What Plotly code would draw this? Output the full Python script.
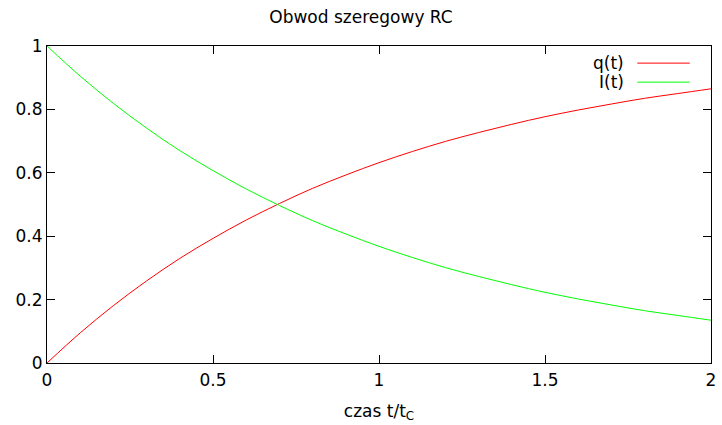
import plotly.graph_objects as go

t = [0.0, 0.1, 0.2, 0.3, 0.4, 0.5, 0.6, 0.7, 0.8, 0.9, 1.0,
     1.1, 1.2, 1.3, 1.4, 1.5, 1.6, 1.7, 1.8, 1.9, 2.0]
q = [0.0, 0.095, 0.181, 0.259, 0.330, 0.393, 0.451, 0.503, 0.551, 0.593, 0.632,
     0.667, 0.699, 0.727, 0.753, 0.777, 0.798, 0.817, 0.835, 0.850, 0.865]
I = [1.0, 0.905, 0.819, 0.741, 0.670, 0.607, 0.549, 0.497, 0.449, 0.407, 0.368,
     0.333, 0.301, 0.273, 0.247, 0.223, 0.202, 0.183, 0.165, 0.150, 0.135]
x_ticks = [0, 0.5, 1, 1.5, 2]
y_ticks = [0, 0.2, 0.4, 0.6, 0.8, 1]
names = ["q(t)", "I(t)"]
colors = ["#ff0000", "#00ff00"]

font = dict(family="DejaVu Sans", size=17, color="#000000")
fig = go.Figure()
for name, ys, c in zip(names, [q, I], colors):
    fig.add_trace(go.Scatter(x=t, y=ys, mode="lines", name=name,
                             line=dict(color=c, width=1, shape="spline"),
                             showlegend=False))

axis_common = dict(showgrid=False, zeroline=False, showline=True, mirror="ticks",
                   linecolor="#000000", linewidth=1, ticks="inside", ticklen=8,
                   tickcolor="#000000", tickwidth=1, tickfont=font, automargin=False)
fig.update_xaxes(range=[0, 2], tickvals=x_ticks, ticktext=[f"{v:g}" for v in x_ticks],
                 title=dict(text="czas t/t<sub>C</sub>", font=font, standoff=15),
                 ticklabelstandoff=2,
                 **axis_common)
fig.update_yaxes(range=[0, 1], tickvals=y_ticks, ticktext=[f"{v:g}" for v in y_ticks],
                 **axis_common)

# gnuplot-style legend: text right-aligned, sample line on the right
leg_y = [0.946, 0.886]
for name, c, ly in zip(names, colors, leg_y):
    fig.add_annotation(xref="paper", yref="paper", x=0.872, y=ly, text=name,
                       showarrow=False, xanchor="right", yanchor="middle", font=font)
    fig.add_shape(type="line", xref="paper", yref="paper", x0=0.889, x1=0.968,
                  y0=ly, y1=ly, line=dict(color=c, width=1))

fig.update_layout(
    width=722, height=425,
    margin=dict(l=47, r=11, t=46, b=62),
    paper_bgcolor="white", plot_bgcolor="white",
    title=dict(text="Obwod szeregowy RC", x=0.5, xanchor="center",
               y=1 - 17 / 425, yanchor="middle", font=font),
    font=font,
)
fig.write_html("out.html", config={"displayModeBar": False},
               post_script="document.body.style.margin='0';document.body.style.overflow='hidden';")
